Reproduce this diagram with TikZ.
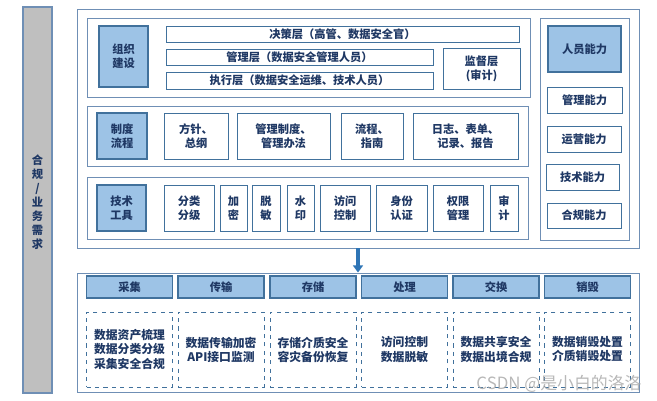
\documentclass[tikz,border=0pt]{standalone}
\usepackage{fontspec}
\setmainfont{Noto Sans CJK SC}
\usepackage{tikz}
\usetikzlibrary{arrows.meta, positioning}
\definecolor{dsfill}{HTML}{9DC3E6}
\definecolor{dsedge}{HTML}{41719C}
\definecolor{dsframe}{HTML}{6F8FB5}
\definecolor{dsgray}{HTML}{BFBFBF}
\definecolor{dstext}{HTML}{1F3864}
\definecolor{dsarrow}{HTML}{2E75B6}

\begin{document}
\begin{tikzpicture}[
  every node/.style={font=\fontsize{8}{10}\selectfont\bfseries, text=dstext, align=center, inner sep=1pt},
  frame/.style={rectangle, draw=dsframe, line width=0.7pt},
  titlebox/.style={rectangle, draw=dsedge, fill=dsfill, line width=0.9pt},
  itembox/.style={rectangle, draw=dsedge, fill=white, line width=0.7pt},
  headbox/.style={rectangle, draw=dsedge, fill=dsfill, line width=0.9pt, minimum width=2.15cm, minimum height=0.55cm},
  dashbox/.style={rectangle, draw=dsedge, dashed, line width=0.7pt, minimum width=2.15cm, minimum height=1.875cm, font=\fontsize{8.4}{10}\selectfont\bfseries},
]
\useasboundingbox (0,0) rectangle (16.425,-10.025);

% compliance bar
\node[rectangle, draw=dsframe, fill=dsgray, line width=0.8pt, minimum width=0.725cm, minimum height=9.65cm] (need) at (0.9375, -5.0) {};
\node at (0.9375, -5.05) {合\\规\\/\\业\\务\\需\\求};

% frames
\node[frame, minimum width=14.05cm, minimum height=5.975cm] (top) at (8.95, -3.2125) {};
\node[frame, minimum width=11.075cm, minimum height=1.975cm] (org) at (7.7125, -1.4375) {};
\node[frame, minimum width=11.025cm, minimum height=1.5cm] (rule) at (7.6875, -3.4) {};
\node[frame, minimum width=11.025cm, minimum height=1.55cm] (tech) at (7.6875, -5.2) {};
\node[frame, minimum width=2.225cm, minimum height=5.55cm] (staff) at (14.6125, -3.225) {};
\node[frame, minimum width=14.05cm, minimum height=2.975cm] (life) at (8.95, -8.3125) {};

% organisation
\node[titlebox, minimum width=1.225cm, minimum height=1.525cm] (orgt) at (3.0875, -1.4125) {组织\\建设};
\node[itembox, minimum width=8.825cm, minimum height=0.4cm] (dec) at (8.5625, -0.85) {决策层（高管、数据安全官）};
\node[itembox, minimum width=6.675cm, minimum height=0.4cm] (mgr) at (7.4875, -1.425) {管理层（数据安全管理人员）};
\node[itembox, minimum width=6.675cm, minimum height=0.425cm] (exe) at (7.4875, -2.0125) {执行层（数据安全运维、技术人员）};
\node[itembox, minimum width=1.925cm, minimum height=1.025cm] (sup) at (12.0375, -1.7125) {监督层\\(审计)};

% policies
\node[titlebox, minimum width=1.25cm, minimum height=1.15cm] (rulet) at (3.05, -3.4) {制度\\流程};
\node[itembox, minimum width=1.6cm, minimum height=1.15cm] (pol) at (4.9, -3.4) {方针、\\总纲};
\node[itembox, minimum width=2.325cm, minimum height=1.15cm] (reg) at (7.0875, -3.4) {管理制度、\\管理办法};
\node[itembox, minimum width=1.55cm, minimum height=1.15cm] (proc) at (9.3, -3.4) {流程、\\指南};
\node[itembox, minimum width=2.625cm, minimum height=1.15cm] (log) at (11.6375, -3.4) {日志、表单、\\记录、报告};

% tools
\node[titlebox, minimum width=1.225cm, minimum height=1.15cm] (techt) at (3.0375, -5.2) {技术\\工具};
\node[itembox, minimum width=1.25cm, minimum height=1.15cm] (cls) at (4.725, -5.2) {分类\\分级};
\node[itembox, minimum width=0.675cm, minimum height=1.15cm] (enc) at (5.8375, -5.2) {加\\密};
\node[itembox, minimum width=0.7cm, minimum height=1.15cm] (mask) at (6.65, -5.2) {脱\\敏};
\node[itembox, minimum width=0.675cm, minimum height=1.15cm] (wm) at (7.5125, -5.2) {水\\印};
\node[itembox, minimum width=1.25cm, minimum height=1.15cm] (acc) at (8.625, -5.2) {访问\\控制};
\node[itembox, minimum width=1.275cm, minimum height=1.15cm] (auth) at (10.0375, -5.2) {身份\\认证};
\node[itembox, minimum width=1.25cm, minimum height=1.15cm] (perm) at (11.45, -5.2) {权限\\管理};
\node[itembox, minimum width=0.7cm, minimum height=1.15cm] (aud) at (12.6, -5.2) {审\\计};

% staff skills
\node[titlebox, minimum width=1.825cm, minimum height=1.15cm] (stafft) at (14.6125, -1.225) {人员能力};
\node[itembox, minimum width=1.875cm, minimum height=0.65cm] (skmgr) at (14.6125, -2.5) {管理能力};
\node[itembox, minimum width=1.85cm, minimum height=0.65cm] (skops) at (14.6, -3.475) {运营能力};
\node[itembox, minimum width=1.825cm, minimum height=0.65cm] (sktech) at (14.5625, -4.425) {技术能力};
\node[itembox, minimum width=1.85cm, minimum height=0.625cm] (skcomp) at (14.6, -5.3875) {合规能力};

% lifecycle
\node[headbox] (col) at (3.2375, -7.175) {采集};
\node[headbox] (tra) at (5.525, -7.175) {传输};
\node[headbox] (sto) at (7.825, -7.175) {存储};
\node[headbox] (pro) at (10.1125, -7.175) {处理};
\node[headbox] (exc) at (12.4, -7.175) {交换};
\node[headbox] (des) at (14.6875, -7.175) {销毁};

\node[dashbox] (colx) at (3.2375, -8.7375) {数据资产梳理\\数据分类分级\\采集安全合规};
\node[dashbox] (trax) at (5.525, -8.7375) {数据传输加密\\API接口监测};
\node[dashbox] (stox) at (7.825, -8.7375) {存储介质安全\\容灾备份恢复};
\node[dashbox] (prox) at (10.1125, -8.7375) {访问控制\\数据脱敏};
\node[dashbox] (excx) at (12.4, -8.7375) {数据共享安全\\数据出境合规};
\node[dashbox] (desx) at (14.6875, -8.7375) {数据销毁处置\\介质销毁处置};

\draw[dsarrow, line width=2.6pt, -{Triangle[width=7pt, length=5pt]}] (top.south) -- (life.north);

\node[font=\fontsize{12}{14}\selectfont, text=gray!70, opacity=0.8] (mark) at (13.975, -9.6) {CSDN @是小白的洛洛};
\end{tikzpicture}
\end{document}
